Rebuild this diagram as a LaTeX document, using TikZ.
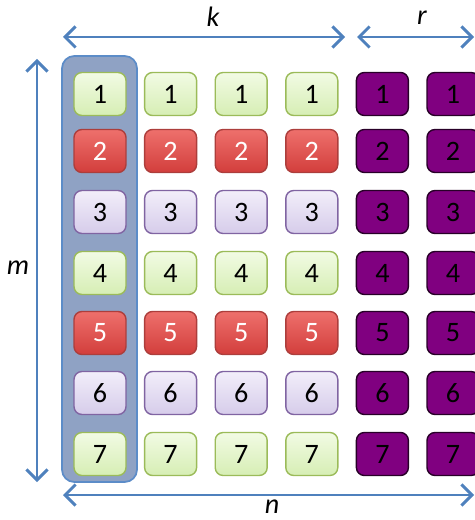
\documentclass[tikz,border=0pt]{standalone}
\usepackage{fontspec}
\setmainfont{Carlito}
\usetikzlibrary{arrows.meta}
\definecolor{arrowBlue}{RGB}{79,129,189}
\definecolor{bandFill}{RGB}{143,162,196}
\definecolor{bandEdge}{RGB}{92,140,200}
\definecolor{greenTop}{RGB}{242,251,228}
\definecolor{greenBot}{RGB}{214,238,180}
\definecolor{greenEdge}{RGB}{155,187,89}
\definecolor{redTop}{RGB}{238,112,108}
\definecolor{redBot}{RGB}{210,62,60}
\definecolor{redEdge}{RGB}{172,62,60}
\definecolor{lilacTop}{RGB}{242,238,250}
\definecolor{lilacBot}{RGB}{214,204,234}
\definecolor{lilacEdge}{RGB}{128,100,162}
\definecolor{plum}{RGB}{128,0,128}
\definecolor{plumEdge}{RGB}{40,0,40}
\tikzset{
  cell/.style={draw,line width=.8pt,rounded corners=4.5pt,minimum width=1.04cm,
    minimum height=.86cm,inner sep=0pt,font=\fontsize{16}{19}\selectfont},
  greencell/.style={cell,top color=greenTop,bottom color=greenBot,draw=greenEdge},
  redcell/.style={cell,top color=redTop,bottom color=redBot,draw=redEdge,text=white},
  lilaccell/.style={cell,top color=lilacTop,bottom color=lilacBot,draw=lilacEdge},
  plumcell/.style={cell,fill=plum,draw=plumEdge,text=black},
  dimarrow/.style={arrowBlue,line width=1.7pt,
    {Straight Barb[length=6pt,width=12pt]}-{Straight Barb[length=6pt,width=12pt]}},
  dimlabel/.style={font=\fontsize{16}{19}\selectfont\itshape,inner sep=1pt}
}
\begin{document}
\begin{tikzpicture}[x=.02cm,y=-.02cm]
  \useasboundingbox (0,0) rectangle (475,520);
  % highlighted first column
  \draw[bandEdge,fill=bandFill,line width=1pt,rounded corners=7pt] (62,56) rectangle (137,482);
  % grid of cells
  \foreach \row/\y/\kind in {1/94/greencell,2/151/redcell,3/212/lilaccell,4/273/greencell,
                             5/333/redcell,6/393/lilaccell,7/454/greencell}{
    \foreach \col/\x in {1/100,2/170.6,3/241.2,4/311.8}
      \node[\kind] (c\col-\row) at (\x,\y) {\row};
    \foreach \col/\x in {5/382.4,6/453}
      \node[plumcell] (c\col-\row) at (\x,\y) {\row};
  }
  % dimension arrows
  \coordinate (kW) at (63,37);
  \coordinate (kE) at (345,37);
  \coordinate (rW) at (357,37);
  \coordinate (rE) at (474,37);
  \coordinate (mN) at (37,59);
  \coordinate (mS) at (37,482);
  \coordinate (nW) at (63,495);
  \coordinate (nE) at (474,495);
  \draw[dimarrow] (kW) -- (kE);
  \draw[dimarrow] (rW) -- (rE);
  \draw[dimarrow] (mN) -- (mS);
  \draw[dimarrow] (nW) -- (nE);
  \node[dimlabel] (kLab) at (213,17) {k};
  \node[dimlabel] (rLab) at (422,18) {r};
  \node[dimlabel] (mLab) at (18,268) {m};
  \node[dimlabel] (nLab) at (272,507) {n};
\end{tikzpicture}
\end{document}
